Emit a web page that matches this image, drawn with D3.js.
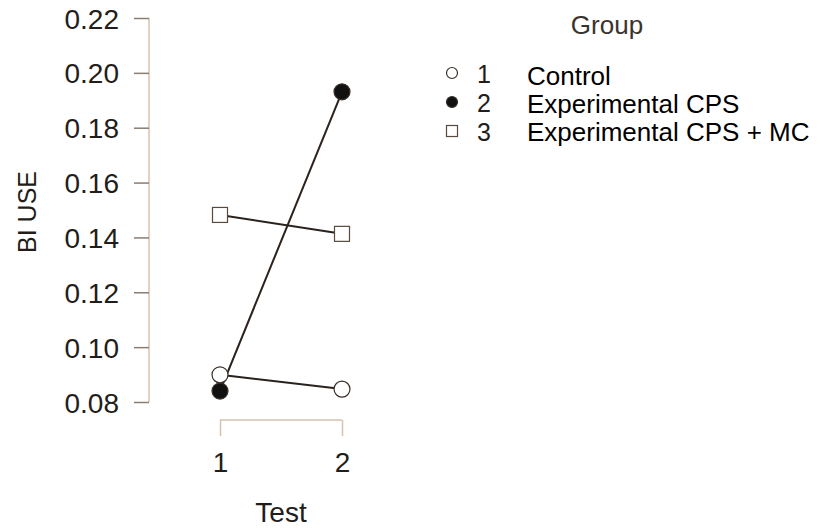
<!DOCTYPE html>
<html>
<head>
<meta charset="utf-8">
<script src="https://cdn.jsdelivr.net/npm/d3@7"></script>
<style>
  body { margin: 0; background: #fff; }
  text { font-family: "Liberation Sans", Arial, sans-serif; }
</style>
</head>
<body>
<div id="chart"></div>
<script>
// data
var tests = [1, 2];
var groups = ["1", "2", "3"];
var groupNames = ["Control", "Experimental CPS", "Experimental CPS + MC"];
var control = [0.0899, 0.0847];
var cps = [0.0840, 0.1931];
var cpsMc = [0.1482, 0.1413];
var yTicks = [0.08, 0.10, 0.12, 0.14, 0.16, 0.18, 0.20, 0.22];

var width = 820, height = 529;
var series = [
    { key: "1", values: control, shape: "circle", fill: "#fff" },
    { key: "2", values: cps, shape: "circle", fill: "#111" },
    { key: "3", values: cpsMc, shape: "square", fill: "#fff" }
];

var svg = d3.select("#chart").append("svg")
    .attr("width", width)
    .attr("height", height);

var y = d3.scaleLinear().domain([0.08, 0.22]).range([402, 18]);
var x = d3.scalePoint().domain(tests).range([220, 342]);

var axisCol = "#d6c2ae", tickCol = "#8a7d72", textCol = "#231d19";

// y axis
var yAxis = svg.append("g")
    .attr("transform", "translate(149,0)")
    .call(d3.axisLeft(y).tickValues(yTicks).tickFormat(d3.format(".2f")).tickSize(15).tickPadding(15));
yAxis.select(".domain").attr("stroke", axisCol).attr("stroke-width", 1.5)
    .attr("d", "M0," + y(0.22) + "V" + y(0.08));
yAxis.selectAll(".tick line").attr("stroke", tickCol).attr("stroke-width", 1.5);
yAxis.selectAll(".tick text")
    .attr("fill", textCol)
    .style("font-size", "28px")
    .attr("dy", "0.36em");

// x axis (bracket style)
var xAxis = svg.append("g")
    .attr("transform", "translate(0,420)")
    .call(d3.axisBottom(x).tickSize(16).tickPadding(16));
xAxis.select(".domain").attr("stroke", axisCol).attr("stroke-width", 1.5)
    .attr("d", "M" + x(1) + ",0H" + x(2));
xAxis.selectAll(".tick line").attr("stroke", axisCol).attr("stroke-width", 1.5);
xAxis.selectAll(".tick text")
    .attr("fill", textCol)
    .style("font-size", "28px");

// axis titles
svg.append("text")
    .attr("transform", "translate(36,212) rotate(-90)")
    .attr("text-anchor", "middle")
    .attr("fill", textCol)
    .style("font-size", "25px")
    .text("BI USE");

svg.append("text")
    .attr("x", 281).attr("y", 522)
    .attr("text-anchor", "middle")
    .attr("fill", textCol)
    .style("font-size", "28px")
    .text("Test");

// lines
var line = d3.line()
    .x((d, i) => x(tests[i]))
    .y(d => y(d));

svg.selectAll(".series-line")
    .data(series)
    .enter()
    .append("path")
    .attr("class", "series-line")
    .attr("d", d => line(d.values))
    .attr("fill", "none")
    .attr("stroke", "#2a221d")
    .attr("stroke-width", 2);

// markers
function drawMarker(g, shape, fill, cx, cy, size) {
    if (shape === "circle") {
        g.append("circle")
            .attr("cx", cx).attr("cy", cy).attr("r", size)
            .attr("fill", fill)
            .attr("stroke", "#3a2f28")
            .attr("stroke-width", 1.2);
    } else {
        g.append("rect")
            .attr("x", cx - size).attr("y", cy - size)
            .attr("width", size * 2).attr("height", size * 2)
            .attr("fill", fill)
            .attr("stroke", "#5a4a3e")
            .attr("stroke-width", 1.2);
    }
}

var markers = svg.append("g");
series.forEach(s => {
    s.values.forEach((v, i) => {
        drawMarker(markers, s.shape, s.fill, x(tests[i]), y(v), s.shape === "circle" ? 8 : 7.5);
    });
});

// legend
svg.append("text")
    .attr("x", 607).attr("y", 34)
    .attr("text-anchor", "middle")
    .attr("fill", "#3a332e")
    .style("font-size", "26px")
    .text("Group");

var legend = svg.append("g");
series.forEach((s, i) => {
    var cy = 73 + i * 29;
    drawMarker(legend, s.shape, s.fill, 452, cy, 5.5);
    legend.append("text")
        .attr("x", 477).attr("y", cy + 10)
        .attr("fill", textCol)
        .style("font-size", "25px")
        .text(groups[i]);
    legend.append("text")
        .attr("x", 527).attr("y", 85 + i * 28)
        .attr("fill", "#000")
        .style("font-size", "26px")
        .text(groupNames[i]);
});
</script>
</body>
</html>
